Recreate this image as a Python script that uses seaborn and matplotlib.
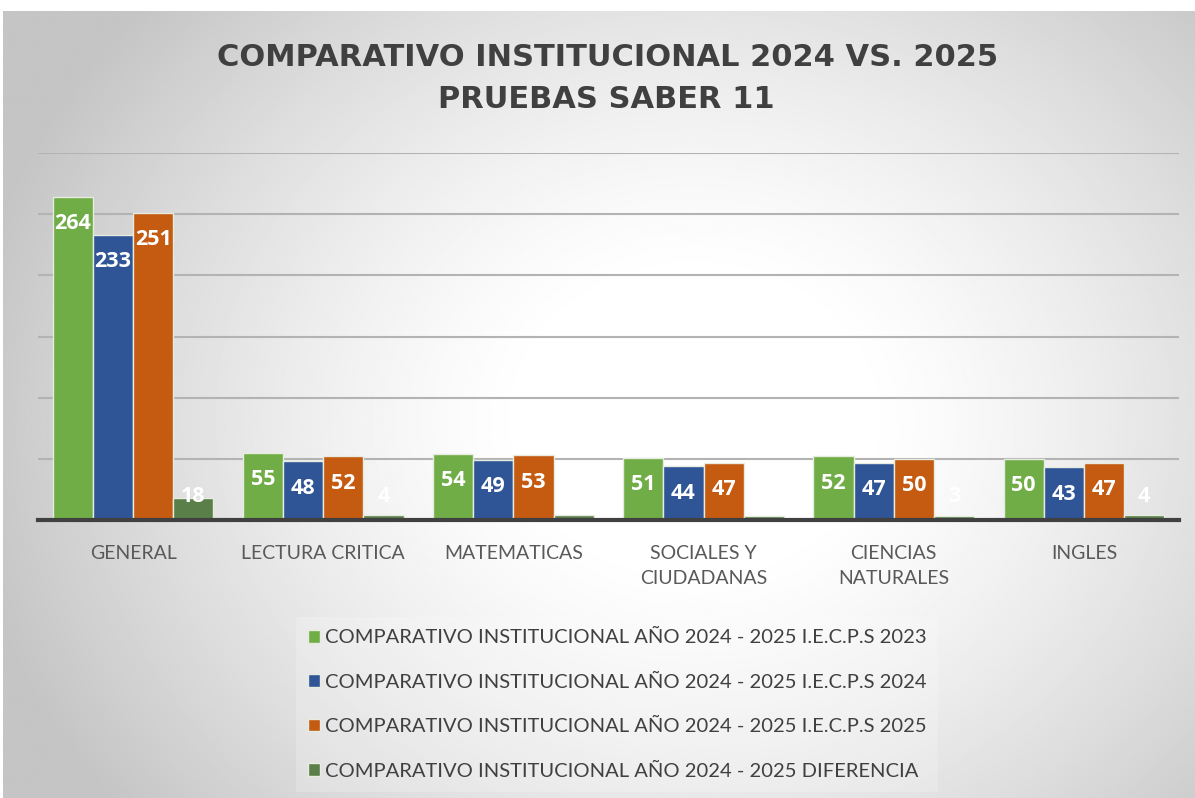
"""Comparativo institucional 2024 vs. 2025 - Pruebas Saber 11 (grouped bars)."""

import matplotlib.pyplot as plt
import numpy as np
import pandas as pd
import seaborn as sns

AREAS = ["GENERAL", "LECTURA CRITICA", "MATEMATICAS", "SOCIALES Y\nCIUDADANAS",
         "CIENCIAS\nNATURALES", "INGLES"]
SERIES = [
    "COMPARATIVO INSTITUCIONAL AÑO 2024 - 2025 I.E.C.P.S 2023",
    "COMPARATIVO INSTITUCIONAL AÑO 2024 - 2025 I.E.C.P.S 2024",
    "COMPARATIVO INSTITUCIONAL AÑO 2024 - 2025 I.E.C.P.S 2025",
    "COMPARATIVO INSTITUCIONAL AÑO 2024 - 2025 DIFERENCIA",
]
VALS_2023 = [264, 55, 54, 51, 52, 50]
VALS_2024 = [233, 48, 49, 44, 47, 43]
VALS_2025 = [251, 52, 53, 47, 50, 47]
VALS_DIF = [18, 4, 4, 3, 3, 4]
COLORS = ["#70AD47", "#2F5597", "#C55A11", "#5B7F49"]

W, H = 1195, 798


def long_table() -> pd.DataFrame:
    rows = []
    for serie, vals in zip(SERIES, [VALS_2023, VALS_2024, VALS_2025, VALS_DIF]):
        for area, v in zip(AREAS, vals):
            rows.append({"area": area, "serie": serie, "valor": v})
    return pd.DataFrame(rows)


def draw_background(fig) -> None:
    # radial grey-to-white fill like the office chart style
    bg = fig.add_axes([3 / W, 0, 1 - 3 / W, 1 - 11 / H], zorder=-10)
    yy, xx = np.mgrid[0:1:400j, 0:1:600j]
    r = np.sqrt(((xx - 0.58) / 0.62) ** 2 + ((yy - 0.52) / 0.8) ** 2)
    t = np.clip((r - 0.22) / 0.78, 0, 1) ** 1.3
    shade = 1.0 - t * (1.0 - 0.77)
    bg.imshow(shade, cmap="gray", vmin=0, vmax=1, aspect="auto",
              extent=(0, 1, 1, 0), interpolation="bilinear")
    bg.set_axis_off()


def main() -> None:
    sns.set_theme(style="white")
    plt.rcParams["font.family"] = ["Lato", "DejaVu Sans"]

    df = long_table()
    fig = plt.figure(figsize=(W / 100, H / 100), dpi=100, facecolor="white")
    draw_background(fig)

    ax = fig.add_axes([38 / W, 1 - 520 / H, (1179 - 38) / W, (520 - 153) / H])
    ax.patch.set_alpha(0)

    sns.barplot(data=df, x="area", y="valor", hue="serie", hue_order=SERIES,
                palette=COLORS, saturation=1, width=0.845, gap=0.0,
                edgecolor="#e6ece0", linewidth=1.0, ax=ax, legend=True)

    ax.set_ylim(0, 300)
    ax.set_yticks(np.arange(0, 301, 50))
    ax.yaxis.grid(True, color="#b3b3b3", linewidth=1.5)
    ax.set_axisbelow(True)
    ax.tick_params(axis="y", left=False, labelleft=False)
    ax.tick_params(axis="x", bottom=False, labelsize=14, labelcolor="#595959", pad=12)
    for lab in ax.get_xticklabels():
        lab.set_va("top")
        lab.set_linespacing(1.6)
    for side in ["top", "right", "left"]:
        ax.spines[side].set_visible(False)
    ax.spines["bottom"].set_color("#404040")
    ax.spines["bottom"].set_linewidth(3)
    ax.set_xlabel("")
    ax.set_ylabel("")

    # white data labels at the inside end of each bar
    for container in ax.containers:
        for bar in container:
            v = bar.get_height()
            y = max(v - 22, 19)
            ax.text(bar.get_x() + bar.get_width() / 2, y, f"{v:.0f}",
                    ha="center", va="center", color="white",
                    fontsize=15.5, fontweight="bold", family=["Open Sans", "DejaVu Sans"])

    handles, labels = ax.get_legend_handles_labels()
    ax.get_legend().remove()
    leg = fig.legend(handles, labels, loc="upper center",
                     bbox_to_anchor=(617 / W, 1 - 607 / H), ncol=1,
                     fontsize=14.5, labelcolor="#404040", frameon=True,
                     handlelength=0.6, handleheight=0.6, handletextpad=0.25,
                     labelspacing=1.36, borderpad=0.6)
    leg.get_frame().set_facecolor("white")
    leg.get_frame().set_alpha(0.2)
    leg.get_frame().set_edgecolor("none")
    leg.get_frame().set_boxstyle("square", pad=0)

    title_font = dict(ha="center", va="center", fontsize=22, fontweight="bold",
                      color="#404040", family=["DejaVu Sans"])
    fig.text(608 / W, 1 - 57 / H, "COMPARATIVO INSTITUCIONAL 2024 VS. 2025", **title_font)
    fig.text(606 / W, 1 - 100 / H, "PRUEBAS SABER 11", **title_font)

    fig.savefig("out.png", dpi=100)
    plt.close(fig)


if __name__ == "__main__":
    main()
